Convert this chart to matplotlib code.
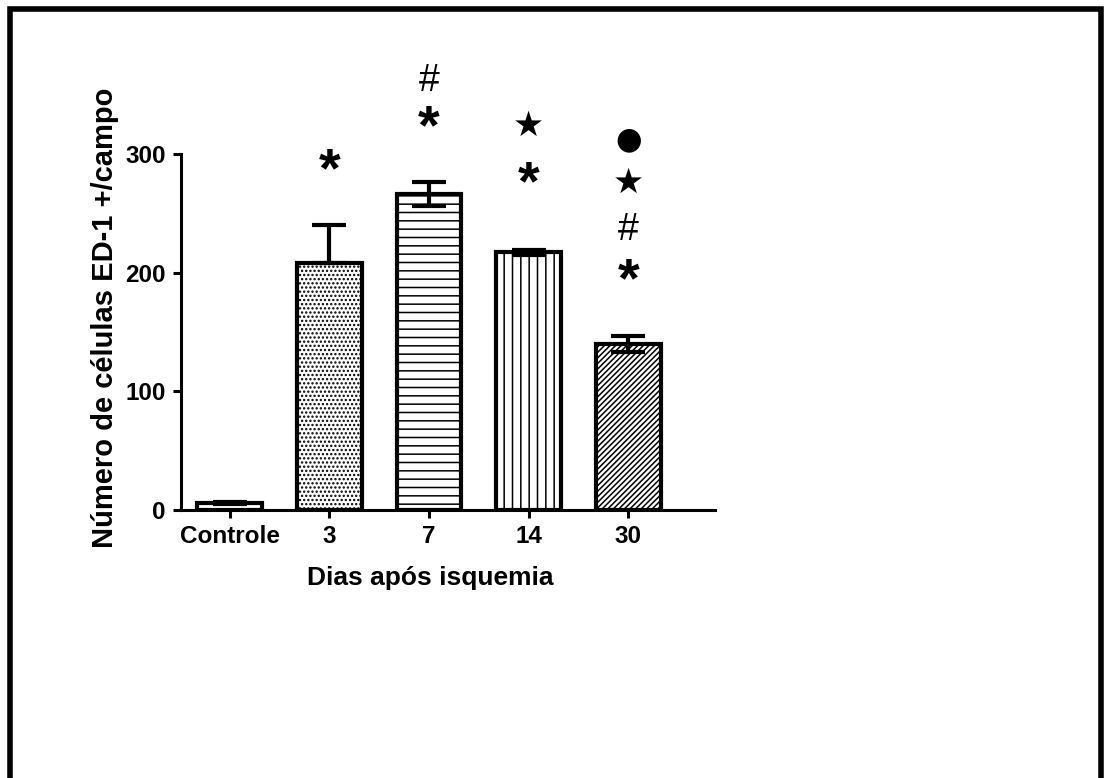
import numpy as np
import matplotlib.pyplot as plt
import matplotlib as mpl
from matplotlib.patches import Rectangle

groups = ['Controle', '3', '7', '14', '30']
means = [6, 208, 266, 217, 140]
err_up = [1, 32, 10, 2, 7]
err_down = [1, 0, 10, 2, 7]
hatches = ['', '....', '--', '||', '//////']

# significance marks above each bar, bottom to top, with their height in data units
marks = [
    [],
    [('*', 295)],
    [('*', 331), ('#', 364)],
    [('*', 284), ('★', 324)],
    [('*', 202), ('#', 238), ('★', 276), ('●', 312)],
]

mpl.rcParams['font.family'] = ['Liberation Sans', 'DejaVu Sans']
mpl.rcParams['hatch.linewidth'] = 1.1

W, H = 1104, 778
fig = plt.figure(figsize=(W / 100, H / 100), dpi=100)
ax = fig.add_axes([181 / W, (H - 510) / H, (715 - 181) / W, 451 / H])

x = np.arange(len(groups))
ax.bar(x, means, width=0.65, color='white', edgecolor='black',
       linewidth=3, hatch=hatches, zorder=2)
ax.errorbar(x, means, yerr=[err_down, err_up], fmt='none', ecolor='black',
            elinewidth=3, capsize=12.5, capthick=3, zorder=3)

for i, group_marks in enumerate(marks):
    for sym, y in group_marks:
        if sym == '*':
            # the asterisk glyph sits high in its box, pull it down a bit
            ax.annotate(sym, (i, y), xytext=(0, -9), textcoords='offset points',
                        ha='center', va='center', fontsize=40, fontweight='bold')
        elif sym == '#':
            ax.annotate(sym, (i, y), xytext=(0, -2), textcoords='offset points',
                        ha='center', va='center', fontsize=27)
        elif sym == '★':
            ax.text(i, y, sym, ha='center', va='center', fontsize=25,
                    family='DejaVu Sans')
        else:
            ax.text(i, y, sym, ha='center', va='center', fontsize=22,
                    family='DejaVu Sans')

ax.set_xlim(-0.49, 4.87)
ax.set_ylim(0, 380)
ax.set_yticks([0, 100, 200, 300])
ax.set_xticks(x)
ax.set_xticklabels(groups)

for side in ['top', 'right']:
    ax.spines[side].set_visible(False)
ax.spines['left'].set_bounds(0, 300)
ax.spines['left'].set_linewidth(2.2)
ax.spines['bottom'].set_linewidth(2.2)
ax.tick_params(axis='both', direction='out', length=6, width=2.2,
               labelsize=17.5, pad=5)
for lab in ax.get_xticklabels() + ax.get_yticklabels():
    lab.set_fontweight('bold')

fig.text(430 / W, 1 - 578 / H, 'Dias após isquemia', ha='center', va='center',
         fontsize=19, fontweight='bold')
fig.text(105 / W, 1 - 318 / H, 'Número de células ED-1 +/campo', ha='center',
         va='center', rotation=90, fontsize=21, fontweight='bold')

fig.patches.append(Rectangle((9.5 / W, -0.05), (1101 - 9.5) / W, 1.05 - 9.5 / H,
                             transform=fig.transFigure, fill=False,
                             edgecolor='black', linewidth=4))

fig.savefig('out.png', dpi=100)
